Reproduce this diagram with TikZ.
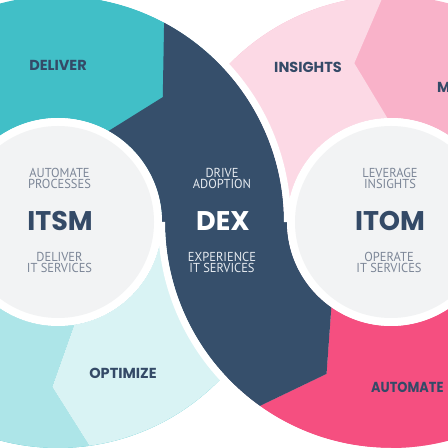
\documentclass[tikz,border=0pt]{standalone}
\usepackage{fontspec}
\usepackage{graphicx}
\usetikzlibrary{calc}
\newfontfamily\headfont{Poppins}
\newfontfamily\subfont{PT Sans}
\definecolor{cTeal}{HTML}{41BFC7}
\definecolor{cTealM}{HTML}{ADE5E8}
\definecolor{cTealL}{HTML}{D9F3F4}
\definecolor{cNavy}{HTML}{364F6B}
\definecolor{cPinkL}{HTML}{FCD9E5}
\definecolor{cPinkM}{HTML}{F9B2C9}
\definecolor{cPinkS}{HTML}{F54F80}
\definecolor{cGray}{HTML}{F2F3F4}
\definecolor{cHead}{HTML}{344A67}
\definecolor{cSub}{HTML}{7C8697}
\definecolor{cDexSub}{HTML}{E6EBF0}
\newcommand{\sq}[1]{\scalebox{0.96}[1]{#1}}
\tikzset{
  seghead/.style={font=\headfont\bfseries\fontsize{14.5}{15}\selectfont, text=cHead, inner sep=0pt, anchor=base},
  bigtitle/.style={font=\headfont\bfseries\fontsize{27}{27}\selectfont, text=cHead, inner sep=0pt, anchor=base},
  subpair/.style={text=cSub, inner sep=0pt, anchor=north, align=center, font=\subfont\fontsize{13}{11}\selectfont},
  gapline/.style={white, line width=7pt},
}
\begin{document}
\begin{tikzpicture}[x=1pt,y=1pt]
\useasboundingbox (0,0) rectangle (448,448);
\clip (0,0) rectangle (448,448);
\coordinate (L) at (58,226);
\coordinate (R) at (391,226);
% base rings
\fill[cTeal, even odd rule] (L) circle[radius=226pt] (L) circle[radius=104pt];
\fill[cPinkM, even odd rule] (R) circle[radius=226pt] (R) circle[radius=104pt];
% left ring segments
\fill[cTealM] ($(L)+(180:226pt)$) arc[start angle=180, end angle=278, radius=226pt]
  -- ($(L)+(268:165pt)$) -- ($(L)+(279:104pt)$)
  arc[start angle=279, end angle=180, radius=104pt] -- cycle;
\fill[cTealL] ($(L)+(278:226pt)$) -- ($(L)+(268:165pt)$) -- ($(L)+(279:104pt)$)
  arc[start angle=279, end angle=360, radius=104pt] -- ($(L)+(0:226pt)$)
  arc[start angle=360, end angle=278, radius=226pt] -- cycle;
% right ring segments
\fill[cPinkS] ($(R)+(234.5:226pt)$) -- ($(R)+(247:165pt)$) -- ($(R)+(235:104pt)$)
  arc[start angle=235, end angle=340, radius=104pt] -- ($(R)+(340:226pt)$)
  arc[start angle=340, end angle=234.5, radius=226pt] -- cycle;
\fill[cPinkL] ($(R)+(92:226pt)$) arc[start angle=92, end angle=180, radius=226pt]
  -- ($(R)+(180:104pt)$) arc[start angle=180, end angle=92, radius=104pt]
  -- ($(R)+(103:163pt)$) -- cycle;
% crossing band
\fill[cNavy] ($(L)+(61:104pt)$) -- ($(L)+(50:163pt)$) -- ($(L)+(62:226pt)$)
  arc[start angle=62, end angle=0, radius=226pt]
  -- ($(R)+(180:104pt)$) arc[start angle=180, end angle=235, radius=104pt]
  -- ($(R)+(247:165pt)$) -- ($(R)+(234.5:226pt)$)
  arc[start angle=234.5, end angle=180, radius=226pt]
  -- ($(L)+(0:104pt)$) arc[start angle=0, end angle=61, radius=104pt] -- cycle;
% white gaps
\draw[gapline] ($(L)+(90:229.5pt)$) arc[start angle=90, end angle=0, radius=229.5pt];
\draw[gapline] ($(R)+(180:229.5pt)$) arc[start angle=180, end angle=270, radius=229.5pt];
% inner discs
\fill[white] (L) circle[radius=104pt];
\fill[cGray] (L) circle[radius=96pt];
\fill[white] (R) circle[radius=104pt];
\fill[cGray] (R) circle[radius=96pt];
% segment headings
\node[seghead] (hdeliver) at (58,377) {DELIVER};
\node[seghead] (hinsights) at (308,375) {INSIGHTS};
\node[seghead, anchor=base west] (hm) at (437,355) {M};
\node[seghead] (hoptimize) at (123,70) {OPTIMIZE};
\node[seghead, anchor=base west] (hautomate) at (371,55) {\scalebox{0.89}[1]{AUTOMATE}};
% ITSM
\node[subpair] (ltop) at (59.5,279.7) {\sq{AUTOMATE}\\\sq{PROCESSES}};
\node[bigtitle] (itsm) at (60,217) {ITSM};
\node[subpair] (lbot) at (59.5,196.3) {\sq{DELIVER}\\\sq{IT SERVICES}};
% DEX
\node[subpair, text=cDexSub] (dtop) at (222,279.7) {\sq{DRIVE}\\\sq{ADOPTION}};
\node[bigtitle, text=white] (dex) at (223,217) {DEX};
\node[subpair, text=cDexSub] (dbot) at (222,196.3) {\sq{EXPERIENCE}\\\sq{IT SERVICES}};
% ITOM
\node[subpair] (rtop) at (390,279.7) {\sq{LEVERAGE}\\\sq{INSIGHTS}};
\node[bigtitle] (itom) at (390,217) {ITOM};
\node[subpair] (rbot) at (389,196.3) {\sq{OPERATE}\\\sq{IT SERVICES}};
\end{tikzpicture}
\end{document}
